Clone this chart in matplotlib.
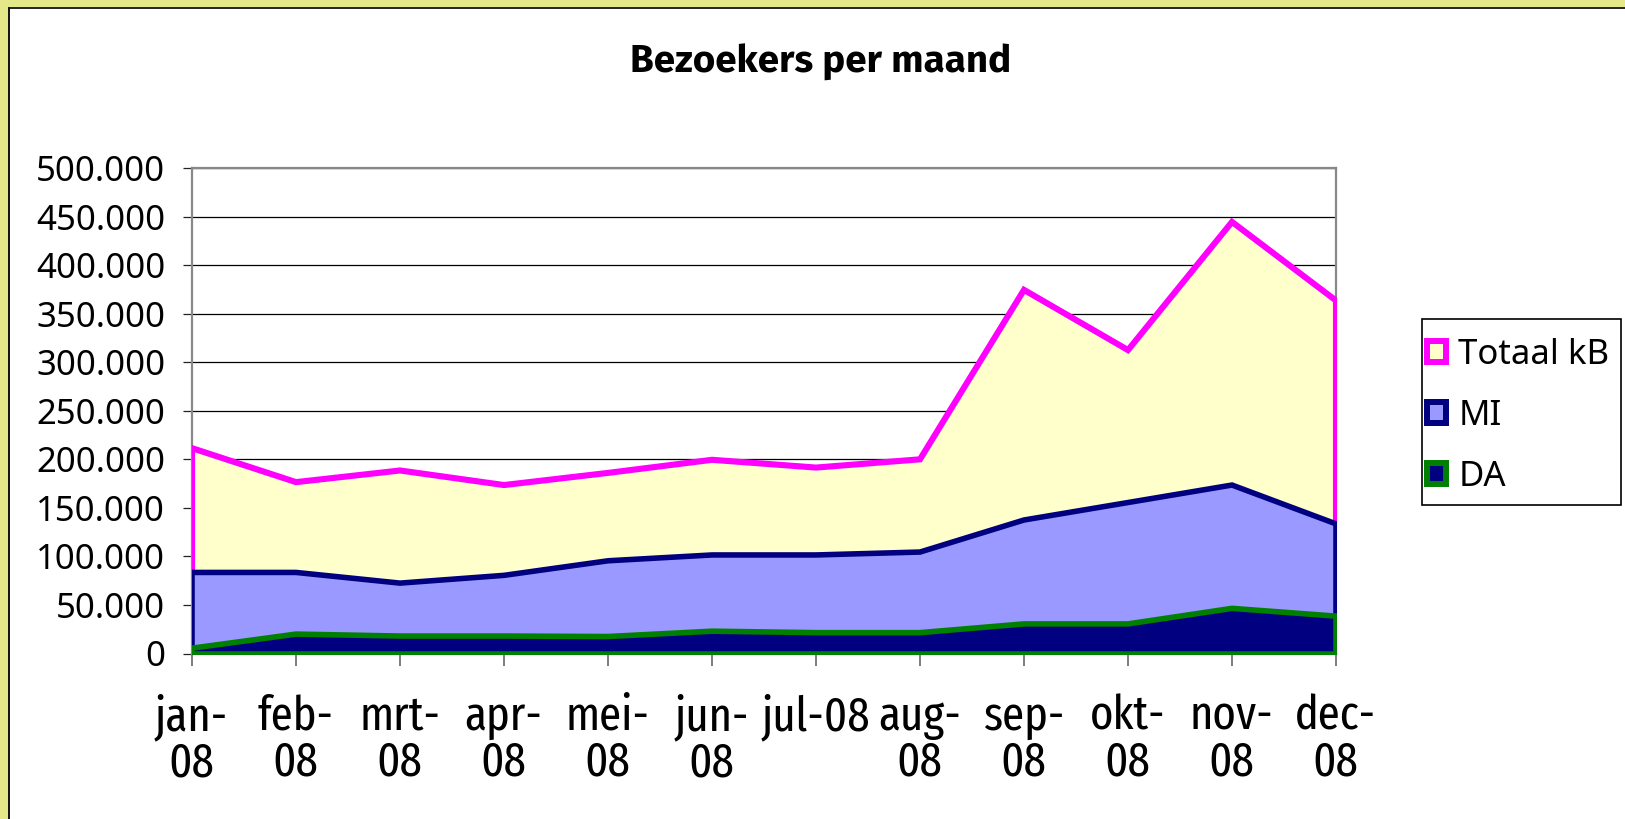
import matplotlib
matplotlib.use("Agg")
import matplotlib.pyplot as plt
from matplotlib.patches import Rectangle, Patch
from matplotlib import font_manager as fm

# ---------------- data ----------------
months = ["jan-\n08", "feb-\n08", "mrt-\n08", "apr-\n08", "mei-\n08", "jun-\n08",
          "jul-08", "aug-\n08", "sep-\n08", "okt-\n08", "nov-\n08", "dec-\n08"]
totaal_kb = [212000, 177000, 189000, 174000, 186500, 200000,
             192000, 200500, 375000, 313000, 445000, 364000]
mi = [84000, 84000, 73000, 81000, 96000, 102000,
      102000, 105000, 138000, 156000, 174000, 134000]
da = [6000, 20500, 18500, 18500, 18000, 23500,
      22000, 22000, 31000, 31000, 47000, 39000]
series_names = ["Totaal kB", "MI", "DA"]
y_ticks = list(range(0, 500001, 50000))
title = "Bezoekers per maand"

# ---------------- fonts ----------------
fonts = fm.fontManager.ttflist
names = {f.name for f in fonts}


def has_bold(fam):
    return any(f.name == fam and (f.weight in (600, 700, 800, 900, "bold", "semibold", "heavy", "black"))
               for f in fonts)


def first(cands, default):
    for c in cands:
        if c in names:
            return c
    return default


main_font = first(["Noto Sans", "Open Sans", "DejaVu Sans"], "DejaVu Sans")
narrow_font = first(["Fira Sans Extra Condensed", "Fira Sans Condensed", "Archivo Narrow",
                     "Encode Sans Condensed", "Noto Sans"], "DejaVu Sans")
narrow_size = 35 if narrow_font not in ("Noto Sans", "DejaVu Sans") else 27
bold_font = "DejaVu Sans"
for c in ["Noto Sans", "Fira Sans", "Open Sans", "Liberation Sans", "Roboto", "Lato"]:
    if c in names and has_bold(c):
        bold_font = c
        break

W, H = 1625, 819
fig = plt.figure(figsize=(W / 100, H / 100), dpi=100)
fig.patch.set_facecolor("white")


def fx(px):
    return px / W


def fy(py):
    return 1 - py / H


# yellow outer border (top and left) with dark inner line
fig.patches.append(Rectangle((0, fy(7)), 1, 7 / H, transform=fig.transFigure,
                             facecolor="#E4E888", edgecolor="none", zorder=0))
fig.patches.append(Rectangle((0, 0), 8.5 / W, 1, transform=fig.transFigure,
                             facecolor="#E4E888", edgecolor="none", zorder=0))
fig.add_artist(plt.Line2D([fx(9.2), 1], [fy(7.8), fy(7.8)], transform=fig.transFigure,
                          color="#222222", lw=1.4))
fig.add_artist(plt.Line2D([fx(9.2), fx(9.2)], [0, fy(7.8)], transform=fig.transFigure,
                          color="#111111", lw=1.4))

left, right, top, bottom = 191.5, 1335.5, 168, 653.5
ax = fig.add_axes([fx(left), fy(bottom), fx(right) - fx(left), fy(top) - fy(bottom)])
x = list(range(len(months)))

ax.fill_between(x, 0, totaal_kb, facecolor="#FFFFCC", edgecolor="#FF00FF",
                linewidth=4.4, zorder=3, joinstyle="miter")
ax.fill_between(x, 0, mi, facecolor="#9999FF", edgecolor="#000080",
                linewidth=4.0, zorder=4, joinstyle="miter")
ax.fill_between(x, 0, da, facecolor="#000080", edgecolor="#008000",
                linewidth=4.0, zorder=5, joinstyle="miter")

ax.set_xlim(0, len(months) - 1)
ax.set_ylim(0, 500000)
ax.set_yticks(y_ticks)
ax.set_yticklabels([f"{v:,.0f}".replace(",", ".") for v in y_ticks],
                   fontsize=25, family=main_font)
ax.set_xticks(x)
ax.set_xticklabels(months, fontsize=narrow_size, family=narrow_font, linespacing=0.98)
ax.yaxis.grid(True, color="black", linewidth=0.9)
ax.set_axisbelow(True)
ax.tick_params(axis="y", length=6.5, width=0.9, color="#222222", pad=12.5)
ax.tick_params(axis="x", length=8.5, width=1.2, color="#666666", pad=20.5)
for s in ax.spines.values():
    s.set_color("#888888")
    s.set_linewidth(1.6)
    s.set_zorder(2.5)

# title, fitted to the reference width (~382 px)
t = fig.text(fx(821), fy(62), title, ha="center", va="center", fontsize=26,
             fontweight="bold", family=bold_font)
fig.canvas.draw()
w = t.get_window_extent().width
if w > 0:
    t.set_fontsize(26 * 382 / w)

# legend frame + legend
lx0, ly0, lx1, ly1 = 1421.7, 319, 1620.7, 505
fig.patches.append(Rectangle((fx(lx0), fy(ly1)), fx(lx1) - fx(lx0), fy(ly0) - fy(ly1),
                             transform=fig.transFigure, facecolor="white",
                             edgecolor="black", linewidth=1.2, zorder=1))
handles = [Patch(facecolor="#FFFFCC", edgecolor="#FF00FF", linewidth=4.3),
           Patch(facecolor="#9999FF", edgecolor="#000080", linewidth=4.3),
           Patch(facecolor="#000080", edgecolor="#008000", linewidth=4.3)]
leg = fig.legend(handles, series_names, loc="upper left",
                 bbox_to_anchor=(fx(1427), fy(338)), frameon=False,
                 prop={"family": main_font, "size": 25},
                 handlelength=0.55, handleheight=0.55, handletextpad=0.35,
                 labelspacing=0.78, borderpad=0, borderaxespad=0)

fig.savefig("out.png", dpi=100)
